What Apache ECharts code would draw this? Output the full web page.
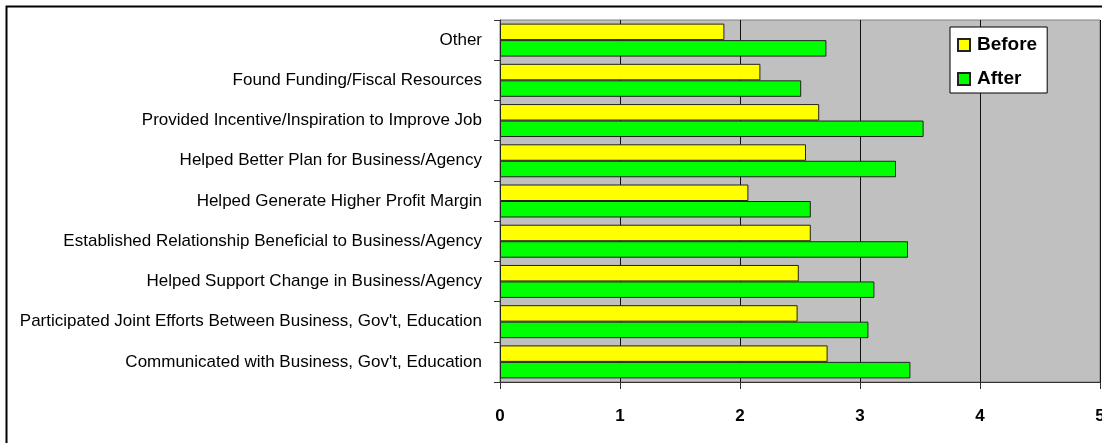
<!DOCTYPE html>
<html>
<head>
<meta charset="utf-8">
<script src="https://cdn.jsdelivr.net/npm/echarts@6/dist/echarts.min.js"></script>
<style>
	html, body { margin: 0; padding: 0; background: #fff; }
	#chart { width: 1102px; height: 443px; }
</style>
</head>
<body>
<div id="chart"></div>
<script>
// categories, top to bottom as shown
const categories = [
	'Other',
	'Found Funding/Fiscal Resources',
	'Provided Incentive/Inspiration to Improve Job',
	'Helped Better Plan for Business/Agency',
	'Helped Generate Higher Profit Margin',
	'Established Relationship Beneficial to Business/Agency',
	'Helped Support Change in Business/Agency',
	"Participated Joint Efforts Between Business, Gov't, Education",
	"Communicated with Business, Gov't, Education"
]
const beforeValues = [1.87, 2.17, 2.66, 2.55, 2.07, 2.59, 2.49, 2.48, 2.73]
const afterValues = [2.72, 2.51, 3.53, 3.30, 2.59, 3.40, 3.12, 3.07, 3.42]
const xTicks = [0, 1, 2, 3, 4, 5]

const chart = echarts.init(document.getElementById('chart'))
chart.setOption({
	animation: false,
	textStyle: { fontFamily: 'Arial, "Liberation Sans", sans-serif' },
	// outer frame of the chart
	graphic: [{
		type: 'rect',
		shape: { x: 6.5, y: 6.5, width: 1120, height: 460 },
		style: { fill: 'none', stroke: '#000', lineWidth: 2 },
		z: 100
	}],
	grid: {
		left: 500, top: 20, right: 2, bottom: 61,
		outerBoundsMode: 'none',
		containLabel: false,
		show: true,
		backgroundColor: '#C0C0C0',
		borderColor: '#808080',
		borderWidth: 1
	},
	legend: {
		data: ['Before', 'After'],
		orient: 'vertical',
		left: 950, top: 27,
		backgroundColor: '#fff',
		borderColor: '#000',
		borderWidth: 1,
		padding: [7, 10, 3, 7],
		itemWidth: 12, itemHeight: 12,
		itemGap: 12,
		icon: 'rect',
		textStyle: { fontSize: 19, fontWeight: 'bold', color: '#000', lineHeight: 22, padding: [0, 0, 0, 2] }
	},
	xAxis: {
		type: 'value',
		min: xTicks[0], max: xTicks[xTicks.length - 1], interval: 1,
		axisLine: { show: true, lineStyle: { color: '#333', width: 1 } },
		axisTick: { show: true, length: 7, lineStyle: { color: '#333' } },
		splitLine: { show: true, lineStyle: { color: '#111', width: 1 } },
		axisLabel: { fontSize: 17, fontWeight: 'bold', color: '#000', margin: 26 }
	},
	yAxis: {
		type: 'category',
		inverse: true,
		data: categories,
		axisLine: { show: true, lineStyle: { color: '#333', width: 1 } },
		axisTick: { show: true, length: 6, lineStyle: { color: '#333' } },
		axisLabel: { fontSize: 17, color: '#000', margin: 18, padding: [2, 0, 0, 0] }
	},
	series: [
		{
			name: 'Before',
			type: 'bar',
			data: beforeValues,
			barWidth: '41%',
			barGap: '0%',
			barCategoryGap: '18%',
			itemStyle: { color: '#FFFF00', borderColor: '#222', borderWidth: 1 }
		},
		{
			name: 'After',
			type: 'bar',
			data: afterValues,
			barWidth: '41%',
			barGap: '0%',
			barCategoryGap: '18%',
			itemStyle: { color: '#00FF00', borderColor: '#222', borderWidth: 1 }
		}
	]
})
</script>
</body>
</html>
